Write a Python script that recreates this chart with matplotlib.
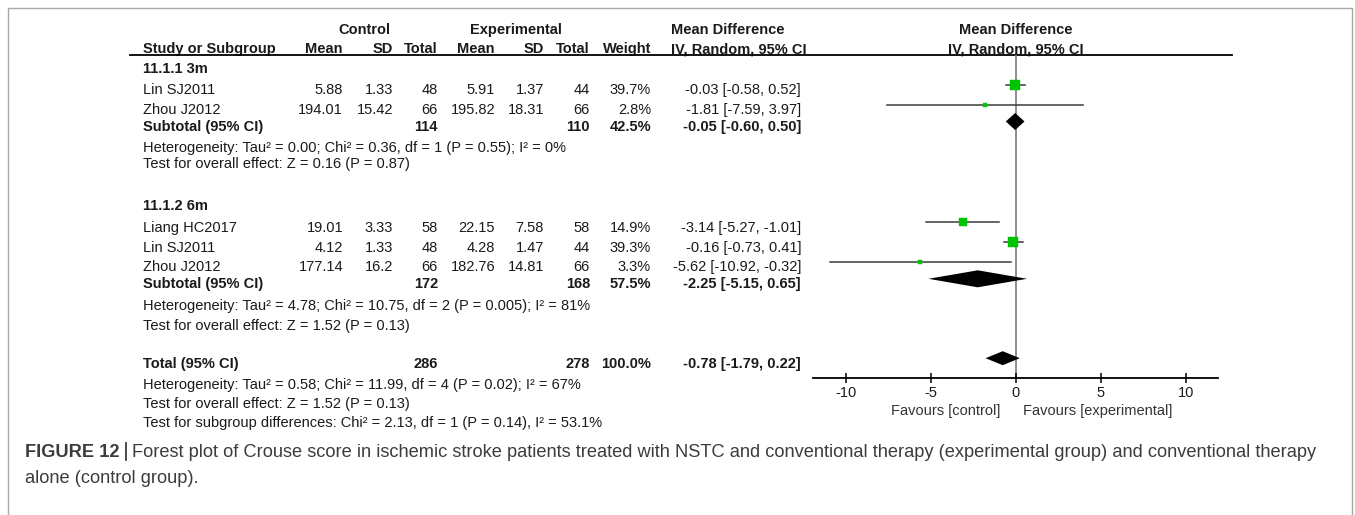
import matplotlib
matplotlib.use("Agg")
import matplotlib.pyplot as plt
from matplotlib import font_manager

plt.rcParams["font.family"] = ["Liberation Sans", "DejaVu Sans"]

# study level data
names = ["Lin SJ2011", "Zhou J2012", "Liang HC2017", "Lin SJ2011", "Zhou J2012"]
ctrl_mean = [5.88, 194.01, 19.01, 4.12, 177.14]
ctrl_sd = [1.33, 15.42, 3.33, 1.33, 16.2]
ctrl_n = [48, 66, 58, 48, 66]
exp_mean = [5.91, 195.82, 22.15, 4.28, 182.76]
exp_sd = [1.37, 18.31, 7.58, 1.47, 14.81]
exp_n = [44, 66, 58, 44, 66]
weight = [39.7, 2.8, 14.9, 39.3, 3.3]
md = [-0.03, -1.81, -3.14, -0.16, -5.62]
md_lo = [-0.58, -7.59, -5.27, -0.73, -10.92]
md_hi = [0.52, 3.97, -1.01, 0.41, -0.32]

# subgroup and overall pooled estimates
groups = ["11.1.1 3m", "11.1.2 6m"]
sub_ctrl_n = [114, 172]
sub_exp_n = [110, 168]
sub_weight = [42.5, 57.5]
sub_md = [-0.05, -2.25]
sub_lo = [-0.60, -5.15]
sub_hi = [0.50, 0.65]
sub_het = ["Heterogeneity: Tau\u00b2 = 0.00; Chi\u00b2 = 0.36, df = 1 (P = 0.55); I\u00b2 = 0%",
           "Heterogeneity: Tau\u00b2 = 4.78; Chi\u00b2 = 10.75, df = 2 (P = 0.005); I\u00b2 = 81%"]
sub_test = ["Test for overall effect: Z = 0.16 (P = 0.87)",
            "Test for overall effect: Z = 1.52 (P = 0.13)"]

tot_ctrl_n = 286
tot_exp_n = 278
tot_weight = 100.0
tot_md = -0.78
tot_lo = -1.79
tot_hi = 0.22
tot_notes = ["Heterogeneity: Tau\u00b2 = 0.58; Chi\u00b2 = 11.99, df = 4 (P = 0.02); I\u00b2 = 67%",
             "Test for overall effect: Z = 1.52 (P = 0.13)",
             "Test for subgroup differences: Chi\u00b2 = 2.13, df = 1 (P = 0.14), I\u00b2 = 53.1%"]

ticks = [-10, -5, 0, 5, 10]

W, H = 1355, 515
fig = plt.figure(figsize=(W / 100, H / 100), dpi=100)
bg = fig.add_axes([0, 0, 1, 1])
bg.set_xlim(0, W)
bg.set_ylim(H, 0)
bg.axis("off")

TXT = "#1a1a1a"
FS = 10.5

# frame around the figure panel
bg.plot([8, 8, 1352, 1352], [H + 5, 8, 8, H + 5], color="#a8a8a8", lw=1)

# column right edges
cx = {"cm": 343, "csd": 393, "cn": 438, "em": 495, "esd": 544, "en": 590, "w": 651, "ci": 801}
x_name = 143


def t(x, y, s, ha="right", bold=False, size=FS, **kw):
    return bg.text(x, y, s, ha=ha, va="baseline", fontsize=size, color=TXT,
                   fontweight="bold" if bold else "normal", **kw)


# header
t(364, 34, "Control", ha="center", bold=True)
t(516, 34, "Experimental", ha="center", bold=True)
t(671, 34, "Mean Difference", ha="left", bold=True)
t(1016, 34, "Mean Difference", ha="center", bold=True)
t(x_name, 53, "Study or Subgroup", ha="left", bold=True)
for key, lab in [("cm", "Mean"), ("csd", "SD"), ("cn", "Total"), ("em", "Mean"),
                 ("esd", "SD"), ("en", "Total"), ("w", "Weight")]:
    t(cx[key], 53, lab, bold=True)
t(671, 53, "IV, Random, 95% CI", ha="left", bold=True)
t(1016, 53, "IV, Random, 95% CI", ha="center", bold=True)
bg.plot([130, 1232], [54.5, 54.5], color="black", lw=1.3, zorder=5)

# baselines of each block of rows
group_y = [73.3, 210]
study_y = [[94.3, 114.3], [231.7, 251.7, 271]]
sub_y = [131, 288.3]
het_y = [[151.7, 168.3], [310, 330]]
tot_y = 367.7
tot_note_y = [389.3, 408.3, 427.3]

rows = []  # (baseline, study index)
idx = 0
for g in range(2):
    t(x_name, group_y[g], groups[g], ha="left", bold=True)
    for yb in study_y[g]:
        t(x_name, yb, names[idx], ha="left")
        t(cx["cm"], yb, str(ctrl_mean[idx]))
        t(cx["csd"], yb, str(ctrl_sd[idx]))
        t(cx["cn"], yb, str(ctrl_n[idx]))
        t(cx["em"], yb, str(exp_mean[idx]))
        t(cx["esd"], yb, str(exp_sd[idx]))
        t(cx["en"], yb, str(exp_n[idx]))
        t(cx["w"], yb, f"{weight[idx]:.1f}%")
        t(cx["ci"], yb, f"{md[idx]:.2f} [{md_lo[idx]:.2f}, {md_hi[idx]:.2f}]")
        rows.append((yb, idx))
        idx += 1
    yb = sub_y[g]
    t(x_name, yb, "Subtotal (95% CI)", ha="left", bold=True)
    t(cx["cn"], yb, str(sub_ctrl_n[g]), bold=True)
    t(cx["en"], yb, str(sub_exp_n[g]), bold=True)
    t(cx["w"], yb, f"{sub_weight[g]:.1f}%", bold=True)
    t(cx["ci"], yb, f"{sub_md[g]:.2f} [{sub_lo[g]:.2f}, {sub_hi[g]:.2f}]", bold=True)
    t(x_name, het_y[g][0], sub_het[g], ha="left")
    t(x_name, het_y[g][1], sub_test[g], ha="left")

t(x_name, tot_y, "Total (95% CI)", ha="left", bold=True)
t(cx["cn"], tot_y, str(tot_ctrl_n), bold=True)
t(cx["en"], tot_y, str(tot_exp_n), bold=True)
t(cx["w"], tot_y, f"{tot_weight:.1f}%", bold=True)
t(cx["ci"], tot_y, f"{tot_md:.2f} [{tot_lo:.2f}, {tot_hi:.2f}]", bold=True)
for yb, s in zip(tot_note_y, tot_notes):
    t(x_name, yb, s, ha="left")

# forest panel: x in mean-difference units, y in pixel rows
x0, x1, zero_px, unit_px = 813, 1218, 1016, 17.0
y_top, y_axis = 54.5, 378
fx = fig.add_axes([x0 / W, 1 - y_axis / H, (x1 - x0) / W, (y_axis - y_top) / H])
fx.patch.set_visible(False)
fx.set_xlim((x0 - zero_px) / unit_px, (x1 - zero_px) / unit_px)
fx.set_ylim(y_axis, y_top)
for side in ["top", "left", "right"]:
    fx.spines[side].set_visible(False)
fx.spines["bottom"].set_linewidth(1.3)
fx.set_yticks([])
fx.set_xticks(ticks)
fx.set_xticklabels([str(v) for v in ticks])
fx.tick_params(axis="x", direction="inout", length=7, width=1.1, pad=2,
               labelsize=FS, labelcolor=TXT)
fx.axvline(0, color="#7a7a7a", lw=1.2, zorder=1)

GREEN = "#00c400"
off = 9.5
for yb, i in rows:
    ym = yb - off
    fx.plot([md_lo[i], md_hi[i]], [ym, ym], color="#3a3a3a", lw=1.1, zorder=2)
    side = 1.5 * weight[i] ** 0.5 + 1.5
    fx.plot(md[i], ym, marker="s", ms=side * 0.72, mfc=GREEN, mec=GREEN, mew=0.3,
            linestyle="none", zorder=3)


def diamond(c, lo, hi, ym, half=8):
    fx.fill([lo, c, hi, c], [ym, ym - half, ym, ym + half], color="black", lw=0, zorder=4)


for g in range(2):
    diamond(sub_md[g], sub_lo[g], sub_hi[g], sub_y[g] - off, half=8.5)
diamond(tot_md, tot_lo, tot_hi, tot_y - off, half=7)

bg.text(1000, 415, "Favours [control]", ha="right", va="baseline", fontsize=FS, color="#333333")
bg.text(1023, 415, "Favours [experimental]", ha="left", va="baseline", fontsize=FS, color="#333333")

# caption, sized so the first line runs across the panel
cap_bold = "FIGURE 12"
cap_rest = ("Forest plot of Crouse score in ischemic stroke patients treated with NSTC and "
            "conventional therapy (experimental group) and conventional therapy")
cap_line2 = "alone (control group)."
CAP = "#3c3c3c"
names_avail = {f.name for f in font_manager.fontManager.ttflist}
cap_family = ["Liberation Sans Narrow"] if "Liberation Sans Narrow" in names_avail else ["Liberation Sans"]
cap_family = cap_family + ["DejaVu Sans"]

y1, y2 = 457, 483
r = fig.canvas.get_renderer()
tb = bg.text(25, y1, cap_bold, ha="left", va="baseline", fontsize=14,
             fontweight="bold", color=CAP, family=cap_family)
tr = bg.text(0, y1, cap_rest, ha="left", va="baseline", fontsize=14, color=CAP,
             family=cap_family)
tl = bg.text(25, y2, cap_line2, ha="left", va="baseline", fontsize=14, color=CAP,
             family=cap_family)
for _ in range(3):
    bb = tb.get_window_extent(r)
    tr.set_x(bb.x1 + 13)
    right = tr.get_window_extent(r).x1
    scale = (1313 - 25) / (right - 25)
    fs = tb.get_fontsize() * scale
    for obj in (tb, tr, tl):
        obj.set_fontsize(fs)
bb = tb.get_window_extent(r)
tr.set_x(bb.x1 + 13)
bar_x = bb.x1 + 6
bg.plot([bar_x, bar_x], [y1 - 14, y1 + 3], color=CAP, lw=1.3)

fig.savefig("out.png", dpi=100)
